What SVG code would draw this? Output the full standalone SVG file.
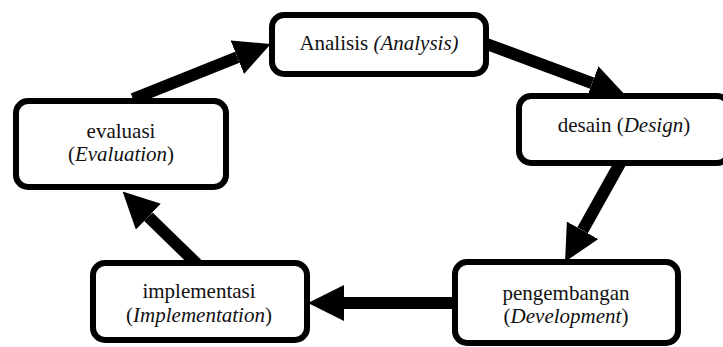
<svg xmlns="http://www.w3.org/2000/svg" width="723" height="347" viewBox="0 0 723 347">
<style>
.box{fill:#fff;stroke:#000;stroke-width:6}
.t{font-family:'Liberation Serif','Times New Roman',Times,'DejaVu Serif',serif;font-size:21px;fill:#111;text-anchor:middle}
.i{font-style:italic}
.c{stroke:#000;stroke-width:12;fill:none}
</style>
<defs>
<marker id="ah" markerUnits="userSpaceOnUse" markerWidth="36" markerHeight="36" viewBox="0 0 34 34" refX="0" refY="17" orient="auto">
<path d="M0,0 L34,17 L0,34 z" fill="#000"/>
</marker>
</defs>
<rect width="723" height="347" fill="#fff"/>
<g id="connectors">
<line class="c" x1="133" y1="99" x2="237.3" y2="57.3" marker-end="url(#ah)"/>
<line class="c" x1="484" y1="43" x2="592.1" y2="83.2" marker-end="url(#ah)"/>
<line class="c" x1="623" y1="158" x2="582.6" y2="230.3" marker-end="url(#ah)"/>
<line class="c" x1="458" y1="303" x2="344" y2="303" marker-end="url(#ah)"/>
<line class="c" x1="199" y1="266" x2="148.4" y2="216.7" marker-end="url(#ah)"/>
</g>
<g id="analisis">
<rect class="box" x="272" y="15" width="214" height="59" rx="12"/>
<text class="t" font-family="Liberation Serif, serif" x="379" y="50">Analisis <tspan class="i">(Analysis)</tspan></text>
</g>
<g id="desain">
<rect class="box" x="519" y="96" width="210" height="67" rx="12"/>
<text class="t" font-family="Liberation Serif, serif" x="624" y="132">desain (<tspan class="i">Design</tspan>)</text>
</g>
<g id="pengembangan">
<rect class="box" x="455" y="262" width="223" height="81" rx="12"/>
<text class="t" font-family="Liberation Serif, serif" x="566" y="300">pengembangan</text>
<text class="t" font-family="Liberation Serif, serif" x="566" y="323">(<tspan class="i">Development</tspan>)</text>
</g>
<g id="implementasi">
<rect class="box" x="93" y="263" width="214" height="77" rx="12"/>
<text class="t" font-family="Liberation Serif, serif" x="199" y="298">implementasi</text>
<text class="t" font-family="Liberation Serif, serif" x="199" y="322">(<tspan class="i">Implementation</tspan>)</text>
</g>
<g id="evaluasi">
<rect class="box" x="16" y="101" width="210" height="86" rx="12"/>
<text class="t" font-family="Liberation Serif, serif" x="121" y="138">evaluasi</text>
<text class="t" font-family="Liberation Serif, serif" x="121" y="161">(<tspan class="i">Evaluation</tspan>)</text>
</g>
</svg>
